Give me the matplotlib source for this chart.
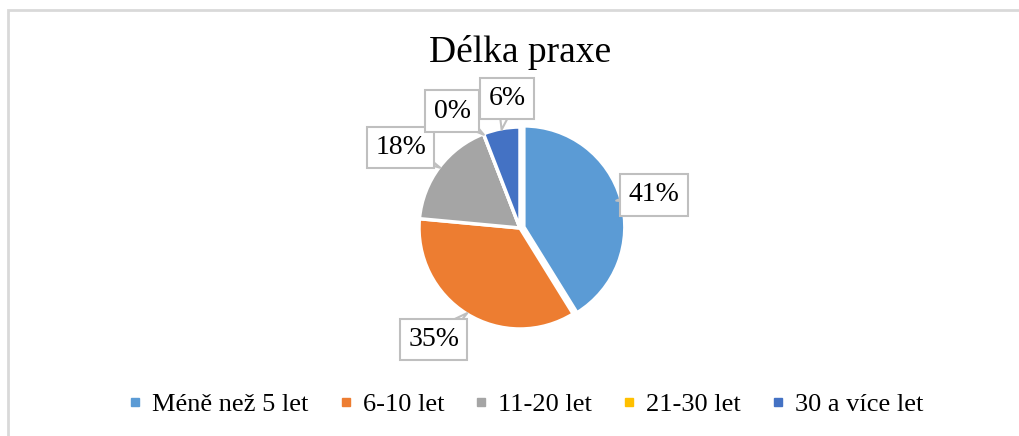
import numpy as np
import matplotlib
matplotlib.use("Agg")
import matplotlib.pyplot as plt
from matplotlib.lines import Line2D
from matplotlib.patches import Rectangle

plt.rcParams["font.family"] = ["Liberation Serif", "DejaVu Serif"]

# data (counts of respondents)
categories = ["Méně než 5 let", "6-10 let", "11-20 let", "21-30 let", "30 a více let"]
counts = [7, 6, 3, 0, 1]
colors = ["#5B9BD5", "#ED7D31", "#A5A5A5", "#FFC000", "#4472C4"]
explode = [0.04, 0, 0, 0, 0]
label_nudge = [-2, -6, 3, 9, -5]       # degrees, to keep callouts apart
label_dist = [1.38, 1.41, 1.44, 1.35, 1.30]

W, H = 1019, 436
fig = plt.figure(figsize=(W / 100, H / 100), dpi=100)

# light frame (top + left edge, like the cropped Excel chart area)
fig.patches.append(Rectangle((8 / W, -0.2), 1.2, 1.2 - 10 / H, transform=fig.transFigure,
                             fill=False, edgecolor="#D9D9D9", linewidth=2))

side = 360
cx, cy = 520, H - 228
ax = fig.add_axes([(cx - side / 2) / W, (cy - side / 2) / H, side / W, side / H])

wedges, _ = ax.pie(counts, colors=colors, startangle=90, counterclock=False, radius=1.01,
                   explode=explode, wedgeprops=dict(edgecolor="white", linewidth=2.5))
ax.set_xlim(-1.8, 1.8)
ax.set_ylim(-1.8, 1.8)
ax.axis("off")

total = sum(counts)
for w, c, nud, d in zip(wedges, counts, label_nudge, label_dist):
    mid = (w.theta1 + w.theta2) / 2
    a = np.deg2rad(mid)
    ex, ey = np.cos(a), np.sin(a)
    ta = np.deg2rad(mid + nud)
    tx, ty = d * np.cos(ta), d * np.sin(ta)
    ax.annotate(f"{round(100 * c / total)}%", xy=(1.0 * ex, 1.0 * ey), xytext=(tx, ty),
                ha="center", va="center", fontsize=20,
                bbox=dict(boxstyle="square,pad=0.3", fc="white", ec="#BFBFBF", lw=1.5),
                arrowprops=dict(arrowstyle="wedge,tail_width=0.7,shrink_factor=0.5",
                                fc="white", ec="#BFBFBF", lw=1.5, patchA=None, shrinkA=0, shrinkB=0))

fig.text(cx / W, 1 - 53 / H, "Délka praxe", ha="center", va="center", fontsize=27)

handles = [Line2D([], [], marker="s", linestyle="none", markersize=6, color=col) for col in colors]
fig.legend(handles, categories, loc="center", bbox_to_anchor=(526 / W, 1 - 404 / H), ncol=5,
           frameon=False, fontsize=19, handlelength=0.5, handletextpad=0.4, columnspacing=1.15)

fig.savefig("out.png", dpi=100)
